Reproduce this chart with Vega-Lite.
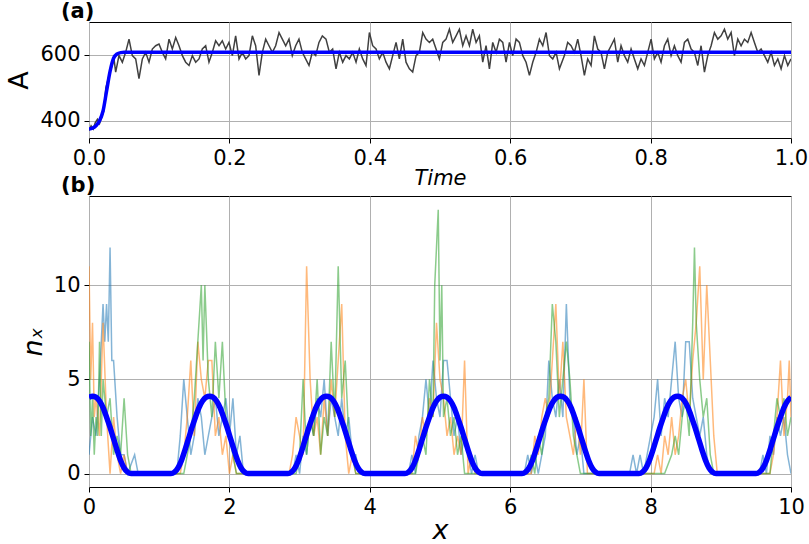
{
"$schema": "https://vega.github.io/schema/vega-lite/v6.json",
"padding": {"left": 5, "top": 0, "right": 3, "bottom": 2},
"bounds": "flush",
"spacing": 58,
"background": "white",
"config": {
  "font": "DejaVu Sans",
  "view": {"stroke": "black", "strokeWidth": 1},
  "axis": {"domain": false, "tickColor": "black", "tickSize": 5, "tickWidth": 1, "labelColor": "black", "labelFontSize": 21, "labelFont": "DejaVu Sans", "labelPadding": 4, "titleColor": "black", "titleFontWeight": "normal", "titleFont": "DejaVu Sans", "gridColor": "#b0b0b0", "gridWidth": 1, "labelOverlap": false, "labelFlush": false},
  "title": {"font": "DejaVu Sans", "fontSize": 21, "fontWeight": "bold", "color": "black", "anchor": "start", "frame": "group"}
},
"datasets": {
  "top": [
    {"t":0,"a":370},{"t":0.003,"a":385},{"t":0.006,"a":375},{"t":0.009,"a":395},{"t":0.012,"a":405},{"t":0.015,"a":392},{"t":0.018,"a":410},{"t":0.021,"a":430},{"t":0.024,"a":500},
    {"t":0.0285,"a":538},{"t":0.0356,"a":588},{"t":0.038,"a":548},{"t":0.0427,"a":598},{"t":0.0475,"a":578},{"t":0.0522,"a":608},{"t":0.057,"a":648},{"t":0.0617,"a":598},{"t":0.0665,"a":588},{"t":0.0712,"a":528},
    {"t":0.076,"a":588},{"t":0.0807,"a":608},{"t":0.0855,"a":578},{"t":0.0902,"a":618},{"t":0.095,"a":628},{"t":0.0997,"a":633},{"t":0.1045,"a":608},{"t":0.1092,"a":588},{"t":0.114,"a":648},{"t":0.1187,"a":618},
    {"t":0.1235,"a":653},{"t":0.1282,"a":628},{"t":0.133,"a":598},{"t":0.1377,"a":578},{"t":0.1425,"a":568},{"t":0.1472,"a":598},{"t":0.152,"a":578},{"t":0.1567,"a":588},{"t":0.1614,"a":618},{"t":0.1662,"a":628},
    {"t":0.1709,"a":578},{"t":0.1757,"a":608},{"t":0.1804,"a":643},{"t":0.1852,"a":628},{"t":0.1899,"a":643},{"t":0.1947,"a":618},{"t":0.1994,"a":638},{"t":0.2042,"a":598},{"t":0.2089,"a":658},{"t":0.2137,"a":588},
    {"t":0.2184,"a":608},{"t":0.2232,"a":588},{"t":0.2279,"a":598},{"t":0.2327,"a":658},{"t":0.2374,"a":628},{"t":0.2422,"a":538},{"t":0.2469,"a":608},{"t":0.2517,"a":648},{"t":0.2564,"a":628},{"t":0.2612,"a":608},
    {"t":0.2659,"a":628},{"t":0.2707,"a":668},{"t":0.2754,"a":648},{"t":0.2802,"a":628},{"t":0.2849,"a":648},{"t":0.2896,"a":598},{"t":0.2944,"a":628},{"t":0.2991,"a":648},{"t":0.3039,"a":608},{"t":0.3086,"a":588},
    {"t":0.3134,"a":568},{"t":0.3181,"a":608},{"t":0.3229,"a":598},{"t":0.3276,"a":638},{"t":0.3324,"a":658},
    {"t":0.3376,"a":648},{"t":0.3424,"a":608},{"t":0.3471,"a":618},{"t":0.3519,"a":558},{"t":0.3566,"a":608},{"t":0.3614,"a":578},{"t":0.3661,"a":598},{"t":0.3709,"a":588},{"t":0.3756,"a":608},{"t":0.3804,"a":578},
    {"t":0.3851,"a":618},{"t":0.3899,"a":588},{"t":0.3946,"a":568},{"t":0.3994,"a":668},{"t":0.4041,"a":628},{"t":0.4089,"a":618},{"t":0.4136,"a":588},{"t":0.4184,"a":608},{"t":0.4231,"a":578},{"t":0.4279,"a":558},
    {"t":0.4326,"a":598},{"t":0.4374,"a":638},{"t":0.4421,"a":588},{"t":0.4469,"a":648},{"t":0.4516,"a":578},{"t":0.4564,"a":558},{"t":0.4611,"a":548},{"t":0.4659,"a":598},{"t":0.4706,"a":608},{"t":0.4754,"a":668},
    {"t":0.4801,"a":648},{"t":0.4849,"a":638},{"t":0.4896,"a":648},{"t":0.4944,"a":618},{"t":0.4991,"a":588},{"t":0.5039,"a":638},{"t":0.5086,"a":648},{"t":0.5134,"a":678},{"t":0.5181,"a":638},{"t":0.5229,"a":658},
    {"t":0.5276,"a":678},{"t":0.5324,"a":628},{"t":0.5371,"a":658},{"t":0.5419,"a":628},{"t":0.5466,"a":678},{"t":0.5514,"a":638},{"t":0.5561,"a":658},{"t":0.5609,"a":578},{"t":0.5656,"a":628},{"t":0.5704,"a":558},
    {"t":0.5751,"a":638},{"t":0.5799,"a":608},{"t":0.5846,"a":648},{"t":0.5894,"a":638},{"t":0.5941,"a":578},{"t":0.5989,"a":638},{"t":0.6036,"a":598},{"t":0.6084,"a":648},{"t":0.6131,"a":638},{"t":0.6179,"a":598},
    {"t":0.6226,"a":578},{"t":0.6274,"a":538},{"t":0.6321,"a":578},{"t":0.6369,"a":608},{"t":0.6416,"a":648},{"t":0.6464,"a":628},{"t":0.6511,"a":668},{"t":0.6559,"a":598},{"t":0.6606,"a":588},{"t":0.6654,"a":608},
    {"t":0.6701,"a":558},
    {"t":0.6772,"a":598},{"t":0.6819,"a":638},{"t":0.6867,"a":628},{"t":0.6914,"a":608},{"t":0.6962,"a":648},{"t":0.7009,"a":598},{"t":0.7057,"a":538},{"t":0.7104,"a":588},{"t":0.7152,"a":568},{"t":0.7199,"a":658},
    {"t":0.7247,"a":618},{"t":0.7294,"a":608},{"t":0.7342,"a":558},{"t":0.7389,"a":608},{"t":0.7437,"a":628},{"t":0.7484,"a":648},{"t":0.7532,"a":578},{"t":0.7579,"a":628},{"t":0.7627,"a":598},{"t":0.7674,"a":578},
    {"t":0.7722,"a":618},{"t":0.7769,"a":588},{"t":0.7817,"a":558},{"t":0.7864,"a":588},{"t":0.7912,"a":568},{"t":0.7959,"a":608},{"t":0.8007,"a":648},{"t":0.8054,"a":588},{"t":0.8102,"a":608},{"t":0.8149,"a":578},
    {"t":0.8197,"a":628},{"t":0.8244,"a":648},{"t":0.8292,"a":598},{"t":0.8339,"a":628},{"t":0.8387,"a":598},{"t":0.8434,"a":578},{"t":0.8482,"a":638},{"t":0.8529,"a":648},{"t":0.8577,"a":618},{"t":0.8624,"a":608},
    {"t":0.8672,"a":568},{"t":0.8719,"a":628},{"t":0.8767,"a":548},{"t":0.8814,"a":598},{"t":0.8862,"a":628},{"t":0.8909,"a":668},{"t":0.8957,"a":648},{"t":0.9004,"a":658},{"t":0.9052,"a":678},{"t":0.9099,"a":648},
    {"t":0.9147,"a":668},{"t":0.9194,"a":598},{"t":0.9242,"a":648},{"t":0.9289,"a":628},{"t":0.9337,"a":648},{"t":0.9384,"a":638},{"t":0.9432,"a":668},{"t":0.9479,"a":638},{"t":0.9527,"a":608},{"t":0.9574,"a":618},
    {"t":0.9622,"a":598},{"t":0.9669,"a":578},{"t":0.9717,"a":608},{"t":0.9764,"a":568},{"t":0.9812,"a":588},{"t":0.9859,"a":558},{"t":0.9907,"a":598},{"t":0.9954,"a":568},{"t":1.0,"a":588}
  ],
  "topfit": [
    {"t":0,"a":375},{"t":0.005,"a":378},{"t":0.01,"a":385},{"t":0.015,"a":400},{"t":0.02,"a":430},{"t":0.025,"a":490},{"t":0.03,"a":550},{"t":0.035,"a":590},{"t":0.04,"a":603},{"t":0.045,"a":607},{"t":0.05,"a":608},{"t":0.2,"a":608},{"t":0.6,"a":608},{"t":1.0,"a":608}
  ],
  "noisy": [
    {"s":"b","x":0,"y":1},{"s":"b","x":0.05,"y":3},{"s":"b","x":0.1,"y":2},{"s":"b","x":0.15,"y":5},{"s":"b","x":0.2,"y":9},{"s":"b","x":0.225,"y":7},{"s":"b","x":0.25,"y":9},{"s":"b","x":0.275,"y":7},{"s":"b","x":0.3,"y":12},{"s":"b","x":0.325,"y":6},{"s":"b","x":0.35,"y":6},{"s":"b","x":0.4,"y":3},{"s":"b","x":0.45,"y":1},{"s":"b","x":0.5,"y":1},{"s":"b","x":0.55,"y":0},{"s":"b","x":0.65,"y":1},{"s":"b","x":0.7,"y":0},
    {"s":"b","x":1.25,"y":0},{"s":"b","x":1.3,"y":2},{"s":"b","x":1.35,"y":5},{"s":"b","x":1.4,"y":3},{"s":"b","x":1.45,"y":1},{"s":"b","x":1.5,"y":2},{"s":"b","x":1.55,"y":4},{"s":"b","x":1.6,"y":3},{"s":"b","x":1.65,"y":1},{"s":"b","x":1.7,"y":2},{"s":"b","x":1.75,"y":3},{"s":"b","x":1.8,"y":4},{"s":"b","x":1.85,"y":2},{"s":"b","x":1.9,"y":3},{"s":"b","x":1.95,"y":4},{"s":"b","x":2.0,"y":2},{"s":"b","x":2.05,"y":4},{"s":"b","x":2.1,"y":1},{"s":"b","x":2.15,"y":2},{"s":"b","x":2.2,"y":0},
    {"s":"b","x":2.9,"y":0},{"s":"b","x":2.95,"y":1},{"s":"b","x":3.0,"y":0},{"s":"b","x":3.05,"y":2},{"s":"b","x":3.1,"y":1},{"s":"b","x":3.15,"y":3},{"s":"b","x":3.2,"y":2},{"s":"b","x":3.25,"y":4},{"s":"b","x":3.3,"y":3},{"s":"b","x":3.35,"y":5},{"s":"b","x":3.4,"y":2},{"s":"b","x":3.45,"y":4},{"s":"b","x":3.5,"y":3},{"s":"b","x":3.55,"y":2},{"s":"b","x":3.6,"y":4},{"s":"b","x":3.65,"y":2},{"s":"b","x":3.7,"y":3},{"s":"b","x":3.75,"y":1},{"s":"b","x":3.8,"y":1},{"s":"b","x":3.85,"y":0},
    {"s":"b","x":4.55,"y":0},{"s":"b","x":4.6,"y":1},{"s":"b","x":4.65,"y":0},{"s":"b","x":4.7,"y":2},{"s":"b","x":4.75,"y":3},{"s":"b","x":4.8,"y":5},{"s":"b","x":4.85,"y":3},{"s":"b","x":4.9,"y":6},{"s":"b","x":4.95,"y":4},{"s":"b","x":5.0,"y":3},{"s":"b","x":5.05,"y":6},{"s":"b","x":5.1,"y":6},{"s":"b","x":5.15,"y":4},{"s":"b","x":5.2,"y":2},{"s":"b","x":5.25,"y":3},{"s":"b","x":5.3,"y":1},{"s":"b","x":5.35,"y":2},{"s":"b","x":5.4,"y":1},{"s":"b","x":5.45,"y":0},{"s":"b","x":5.5,"y":1},{"s":"b","x":5.55,"y":0},
    {"s":"b","x":6.2,"y":0},{"s":"b","x":6.25,"y":1},{"s":"b","x":6.3,"y":0},{"s":"b","x":6.35,"y":1},{"s":"b","x":6.4,"y":0},{"s":"b","x":6.45,"y":1},{"s":"b","x":6.5,"y":2},{"s":"b","x":6.55,"y":6},{"s":"b","x":6.6,"y":4},{"s":"b","x":6.65,"y":3},{"s":"b","x":6.7,"y":5},{"s":"b","x":6.75,"y":3},{"s":"b","x":6.8,"y":9},{"s":"b","x":6.85,"y":4},{"s":"b","x":6.9,"y":3},{"s":"b","x":6.95,"y":1},{"s":"b","x":7.0,"y":2},{"s":"b","x":7.05,"y":0},
    {"s":"b","x":7.7,"y":0},{"s":"b","x":7.75,"y":1},{"s":"b","x":7.8,"y":0},{"s":"b","x":7.85,"y":1},{"s":"b","x":7.9,"y":0},{"s":"b","x":7.95,"y":1},{"s":"b","x":8.0,"y":2},{"s":"b","x":8.05,"y":3},{"s":"b","x":8.1,"y":5},{"s":"b","x":8.15,"y":2},{"s":"b","x":8.2,"y":4},{"s":"b","x":8.25,"y":3},{"s":"b","x":8.3,"y":5},{"s":"b","x":8.35,"y":7},{"s":"b","x":8.4,"y":4},{"s":"b","x":8.45,"y":3},{"s":"b","x":8.5,"y":7},{"s":"b","x":8.55,"y":7},{"s":"b","x":8.6,"y":4},{"s":"b","x":8.65,"y":3},{"s":"b","x":8.7,"y":2},{"s":"b","x":8.75,"y":3},{"s":"b","x":8.8,"y":1},{"s":"b","x":8.85,"y":0},
    {"s":"b","x":9.55,"y":0},{"s":"b","x":9.6,"y":1},{"s":"b","x":9.65,"y":0},{"s":"b","x":9.7,"y":2},{"s":"b","x":9.75,"y":1},{"s":"b","x":9.8,"y":3},{"s":"b","x":9.85,"y":2},{"s":"b","x":9.9,"y":3},{"s":"b","x":9.95,"y":1},{"s":"b","x":10,"y":0},
    {"s":"o","x":0,"y":11},{"s":"o","x":0.025,"y":5},{"s":"o","x":0.05,"y":8},{"s":"o","x":0.075,"y":3},{"s":"o","x":0.1,"y":4},{"s":"o","x":0.15,"y":2},{"s":"o","x":0.2,"y":8},{"s":"o","x":0.25,"y":3},{"s":"o","x":0.3,"y":0},{"s":"o","x":0.35,"y":3},{"s":"o","x":0.4,"y":1},{"s":"o","x":0.45,"y":0},{"s":"o","x":0.5,"y":1},{"s":"o","x":0.55,"y":0},
    {"s":"o","x":1.3,"y":0},{"s":"o","x":1.35,"y":1},{"s":"o","x":1.4,"y":3},{"s":"o","x":1.45,"y":6},{"s":"o","x":1.5,"y":2},{"s":"o","x":1.55,"y":7},{"s":"o","x":1.6,"y":5},{"s":"o","x":1.65,"y":4},{"s":"o","x":1.7,"y":6},{"s":"o","x":1.75,"y":6},{"s":"o","x":1.8,"y":2},{"s":"o","x":1.85,"y":3},{"s":"o","x":1.9,"y":1},{"s":"o","x":1.95,"y":2},{"s":"o","x":2.0,"y":0},{"s":"o","x":2.05,"y":1},{"s":"o","x":2.1,"y":0},
    {"s":"o","x":2.85,"y":0},{"s":"o","x":2.9,"y":1},{"s":"o","x":2.95,"y":3},{"s":"o","x":3.0,"y":2},{"s":"o","x":3.05,"y":1},{"s":"o","x":3.1,"y":11},{"s":"o","x":3.15,"y":5},{"s":"o","x":3.2,"y":2},{"s":"o","x":3.25,"y":3},{"s":"o","x":3.3,"y":1},{"s":"o","x":3.35,"y":4},{"s":"o","x":3.4,"y":2},{"s":"o","x":3.45,"y":5},{"s":"o","x":3.5,"y":3},{"s":"o","x":3.55,"y":6},{"s":"o","x":3.6,"y":9},{"s":"o","x":3.65,"y":2},{"s":"o","x":3.7,"y":0},{"s":"o","x":3.75,"y":1},{"s":"o","x":3.8,"y":0},
    {"s":"o","x":4.6,"y":0},{"s":"o","x":4.65,"y":2},{"s":"o","x":4.7,"y":1},{"s":"o","x":4.75,"y":3},{"s":"o","x":4.8,"y":2},{"s":"o","x":4.85,"y":4},{"s":"o","x":4.9,"y":3},{"s":"o","x":4.95,"y":8},{"s":"o","x":5.0,"y":5},{"s":"o","x":5.05,"y":4},{"s":"o","x":5.1,"y":2},{"s":"o","x":5.15,"y":3},{"s":"o","x":5.2,"y":1},{"s":"o","x":5.25,"y":2},{"s":"o","x":5.3,"y":1},{"s":"o","x":5.35,"y":6},{"s":"o","x":5.4,"y":0},{"s":"o","x":5.45,"y":1},{"s":"o","x":5.5,"y":0},
    {"s":"o","x":6.3,"y":0},{"s":"o","x":6.35,"y":2},{"s":"o","x":6.4,"y":1},{"s":"o","x":6.45,"y":3},{"s":"o","x":6.5,"y":4},{"s":"o","x":6.55,"y":3},{"s":"o","x":6.6,"y":6},{"s":"o","x":6.65,"y":9},{"s":"o","x":6.7,"y":4},{"s":"o","x":6.75,"y":7},{"s":"o","x":6.8,"y":3},{"s":"o","x":6.85,"y":2},{"s":"o","x":6.9,"y":1},{"s":"o","x":6.95,"y":3},{"s":"o","x":7.0,"y":1},{"s":"o","x":7.05,"y":5},{"s":"o","x":7.1,"y":0},
    {"s":"o","x":8.05,"y":0},{"s":"o","x":8.1,"y":1},{"s":"o","x":8.15,"y":0},{"s":"o","x":8.2,"y":2},{"s":"o","x":8.25,"y":1},{"s":"o","x":8.3,"y":3},{"s":"o","x":8.35,"y":1},{"s":"o","x":8.4,"y":2},{"s":"o","x":8.45,"y":4},{"s":"o","x":8.5,"y":5},{"s":"o","x":8.55,"y":3},{"s":"o","x":8.6,"y":6},{"s":"o","x":8.65,"y":8},{"s":"o","x":8.7,"y":11},{"s":"o","x":8.75,"y":5},{"s":"o","x":8.8,"y":10},{"s":"o","x":8.85,"y":6},{"s":"o","x":8.9,"y":2},{"s":"o","x":8.95,"y":0},
    {"s":"o","x":9.7,"y":0},{"s":"o","x":9.75,"y":1},{"s":"o","x":9.8,"y":3},{"s":"o","x":9.85,"y":6},{"s":"o","x":9.9,"y":2},{"s":"o","x":9.95,"y":4},{"s":"o","x":9.975,"y":6},{"s":"o","x":10,"y":3},
    {"s":"g","x":0,"y":7},{"s":"g","x":0.025,"y":2},{"s":"g","x":0.05,"y":4},{"s":"g","x":0.075,"y":1},{"s":"g","x":0.1,"y":3},{"s":"g","x":0.125,"y":2},{"s":"g","x":0.15,"y":7},{"s":"g","x":0.175,"y":2},{"s":"g","x":0.2,"y":5},{"s":"g","x":0.25,"y":3},{"s":"g","x":0.3,"y":4},{"s":"g","x":0.35,"y":1},{"s":"g","x":0.4,"y":2},{"s":"g","x":0.45,"y":1},{"s":"g","x":0.5,"y":4},{"s":"g","x":0.55,"y":1},{"s":"g","x":0.6,"y":0},
    {"s":"g","x":1.35,"y":0},{"s":"g","x":1.4,"y":1},{"s":"g","x":1.45,"y":2},{"s":"g","x":1.5,"y":4},{"s":"g","x":1.55,"y":7},{"s":"g","x":1.6,"y":10},{"s":"g","x":1.625,"y":6},{"s":"g","x":1.65,"y":10},{"s":"g","x":1.7,"y":5},{"s":"g","x":1.75,"y":3},{"s":"g","x":1.8,"y":7},{"s":"g","x":1.85,"y":4},{"s":"g","x":1.9,"y":7},{"s":"g","x":1.95,"y":3},{"s":"g","x":2.0,"y":2},{"s":"g","x":2.05,"y":1},{"s":"g","x":2.1,"y":0},
    {"s":"g","x":2.95,"y":0},{"s":"g","x":3.0,"y":1},{"s":"g","x":3.05,"y":5},{"s":"g","x":3.1,"y":1},{"s":"g","x":3.15,"y":3},{"s":"g","x":3.2,"y":2},{"s":"g","x":3.25,"y":5},{"s":"g","x":3.3,"y":1},{"s":"g","x":3.35,"y":3},{"s":"g","x":3.4,"y":2},{"s":"g","x":3.45,"y":7},{"s":"g","x":3.5,"y":3},{"s":"g","x":3.55,"y":11},{"s":"g","x":3.6,"y":4},{"s":"g","x":3.65,"y":6},{"s":"g","x":3.7,"y":2},{"s":"g","x":3.75,"y":1},{"s":"g","x":3.8,"y":0},
    {"s":"g","x":4.65,"y":0},{"s":"g","x":4.7,"y":1},{"s":"g","x":4.75,"y":2},{"s":"g","x":4.8,"y":1},{"s":"g","x":4.85,"y":5},{"s":"g","x":4.9,"y":3},{"s":"g","x":4.925,"y":10},{"s":"g","x":4.95,"y":12},{"s":"g","x":4.975,"y":14},{"s":"g","x":5.0,"y":6},{"s":"g","x":5.025,"y":10},{"s":"g","x":5.05,"y":3},{"s":"g","x":5.1,"y":4},{"s":"g","x":5.15,"y":2},{"s":"g","x":5.2,"y":3},{"s":"g","x":5.25,"y":1},{"s":"g","x":5.3,"y":2},{"s":"g","x":5.35,"y":0},
    {"s":"g","x":6.25,"y":0},{"s":"g","x":6.3,"y":1},{"s":"g","x":6.35,"y":0},{"s":"g","x":6.4,"y":2},{"s":"g","x":6.45,"y":1},{"s":"g","x":6.5,"y":3},{"s":"g","x":6.55,"y":4},{"s":"g","x":6.6,"y":9},{"s":"g","x":6.65,"y":7},{"s":"g","x":6.7,"y":3},{"s":"g","x":6.75,"y":5},{"s":"g","x":6.8,"y":7},{"s":"g","x":6.85,"y":5},{"s":"g","x":6.9,"y":2},{"s":"g","x":6.95,"y":1},{"s":"g","x":7.0,"y":0},
    {"s":"g","x":8.2,"y":0},{"s":"g","x":8.3,"y":1},{"s":"g","x":8.35,"y":2},{"s":"g","x":8.4,"y":1},{"s":"g","x":8.45,"y":3},{"s":"g","x":8.5,"y":4},{"s":"g","x":8.55,"y":2},{"s":"g","x":8.6,"y":8},{"s":"g","x":8.625,"y":12},{"s":"g","x":8.65,"y":8},{"s":"g","x":8.7,"y":5},{"s":"g","x":8.75,"y":3},{"s":"g","x":8.8,"y":4},{"s":"g","x":8.85,"y":1},{"s":"g","x":8.9,"y":0},
    {"s":"g","x":9.7,"y":0},{"s":"g","x":9.75,"y":2},{"s":"g","x":9.8,"y":4},{"s":"g","x":9.85,"y":3},{"s":"g","x":9.9,"y":4},{"s":"g","x":9.95,"y":2},{"s":"g","x":10,"y":3}
  ],
  "fit": [
    {"x":0,"y":4.05},{"x":0.05,"y":4.1},{"x":0.1,"y":4.05},{"x":0.15,"y":3.85},{"x":0.2,"y":3.5},{"x":0.25,"y":3.0},{"x":0.3,"y":2.45},{"x":0.35,"y":1.85},{"x":0.4,"y":1.25},{"x":0.45,"y":0.7},{"x":0.5,"y":0.3},{"x":0.55,"y":0.08},{"x":0.6,"y":0},
    {"x":1.167,"y":0},{"x":1.217,"y":0.08},{"x":1.267,"y":0.3},{"x":1.317,"y":0.7},{"x":1.367,"y":1.25},{"x":1.417,"y":1.85},{"x":1.467,"y":2.45},{"x":1.517,"y":3.0},{"x":1.567,"y":3.5},{"x":1.617,"y":3.85},{"x":1.667,"y":4.05},{"x":1.717,"y":4.1},{"x":1.767,"y":4.05},{"x":1.817,"y":3.85},{"x":1.867,"y":3.5},{"x":1.917,"y":3.0},{"x":1.967,"y":2.45},{"x":2.017,"y":1.85},{"x":2.067,"y":1.25},{"x":2.117,"y":0.7},{"x":2.167,"y":0.3},{"x":2.217,"y":0.08},{"x":2.267,"y":0},
    {"x":2.833,"y":0},{"x":2.883,"y":0.08},{"x":2.933,"y":0.3},{"x":2.983,"y":0.7},{"x":3.033,"y":1.25},{"x":3.083,"y":1.85},{"x":3.133,"y":2.45},{"x":3.183,"y":3.0},{"x":3.233,"y":3.5},{"x":3.283,"y":3.85},{"x":3.333,"y":4.05},{"x":3.383,"y":4.1},{"x":3.433,"y":4.05},{"x":3.483,"y":3.85},{"x":3.533,"y":3.5},{"x":3.583,"y":3.0},{"x":3.633,"y":2.45},{"x":3.683,"y":1.85},{"x":3.733,"y":1.25},{"x":3.783,"y":0.7},{"x":3.833,"y":0.3},{"x":3.883,"y":0.08},{"x":3.933,"y":0},
    {"x":4.5,"y":0},{"x":4.55,"y":0.08},{"x":4.6,"y":0.3},{"x":4.65,"y":0.7},{"x":4.7,"y":1.25},{"x":4.75,"y":1.85},{"x":4.8,"y":2.45},{"x":4.85,"y":3.0},{"x":4.9,"y":3.5},{"x":4.95,"y":3.85},{"x":5.0,"y":4.05},{"x":5.05,"y":4.1},{"x":5.1,"y":4.05},{"x":5.15,"y":3.85},{"x":5.2,"y":3.5},{"x":5.25,"y":3.0},{"x":5.3,"y":2.45},{"x":5.35,"y":1.85},{"x":5.4,"y":1.25},{"x":5.45,"y":0.7},{"x":5.5,"y":0.3},{"x":5.55,"y":0.08},{"x":5.6,"y":0},
    {"x":6.167,"y":0},{"x":6.217,"y":0.08},{"x":6.267,"y":0.3},{"x":6.317,"y":0.7},{"x":6.367,"y":1.25},{"x":6.417,"y":1.85},{"x":6.467,"y":2.45},{"x":6.517,"y":3.0},{"x":6.567,"y":3.5},{"x":6.617,"y":3.85},{"x":6.667,"y":4.05},{"x":6.717,"y":4.1},{"x":6.767,"y":4.05},{"x":6.817,"y":3.85},{"x":6.867,"y":3.5},{"x":6.917,"y":3.0},{"x":6.967,"y":2.45},{"x":7.017,"y":1.85},{"x":7.067,"y":1.25},{"x":7.117,"y":0.7},{"x":7.167,"y":0.3},{"x":7.217,"y":0.08},{"x":7.267,"y":0},
    {"x":7.833,"y":0},{"x":7.883,"y":0.08},{"x":7.933,"y":0.3},{"x":7.983,"y":0.7},{"x":8.033,"y":1.25},{"x":8.083,"y":1.85},{"x":8.133,"y":2.45},{"x":8.183,"y":3.0},{"x":8.233,"y":3.5},{"x":8.283,"y":3.85},{"x":8.333,"y":4.05},{"x":8.383,"y":4.1},{"x":8.433,"y":4.05},{"x":8.483,"y":3.85},{"x":8.533,"y":3.5},{"x":8.583,"y":3.0},{"x":8.633,"y":2.45},{"x":8.683,"y":1.85},{"x":8.733,"y":1.25},{"x":8.783,"y":0.7},{"x":8.833,"y":0.3},{"x":8.883,"y":0.08},{"x":8.933,"y":0},
    {"x":9.5,"y":0},{"x":9.55,"y":0.08},{"x":9.6,"y":0.3},{"x":9.65,"y":0.7},{"x":9.7,"y":1.25},{"x":9.75,"y":1.85},{"x":9.8,"y":2.45},{"x":9.85,"y":3.0},{"x":9.9,"y":3.5},{"x":9.95,"y":3.85},{"x":10.0,"y":4.05}
  ]
},
"vconcat": [
  {
    "width": 702, "height": 116,
    "title": {"text": "(a)", "dx": -28, "offset": 0},
    "layer": [
      {
        "data": {"name": "top"},
        "mark": {"type": "line", "color": "#404040", "strokeWidth": 1.5, "clip": true},
        "encoding": {
          "x": {"field": "t", "type": "quantitative", "scale": {"domain": [0, 1], "nice": false}, "axis": {"values": [0, 0.2, 0.4, 0.6, 0.8, 1.0], "format": ".1f", "title": "Time", "titleFontSize": 21, "titleFontStyle": "italic", "titlePadding": -1}},
          "y": {"field": "a", "type": "quantitative", "scale": {"domain": [348, 700], "nice": false, "zero": false}, "axis": {"values": [400, 600], "format": "d", "title": "A", "titleFontSize": 27, "titlePadding": 6}}
        }
      },
      {
        "data": {"name": "topfit"},
        "mark": {"type": "line", "color": "#0000ff", "strokeWidth": 3.5, "interpolate": "monotone", "clip": true},
        "encoding": {
          "x": {"field": "t", "type": "quantitative"},
          "y": {"field": "a", "type": "quantitative"}
        }
      }
    ]
  },
  {
    "width": 702, "height": 291,
    "title": {"text": "(b)", "dx": -28, "offset": 0},
    "layer": [
      {
        "data": {"name": "noisy"},
        "mark": {"type": "line", "strokeWidth": 1.5, "opacity": 0.55, "clip": true},
        "encoding": {
          "x": {"field": "x", "type": "quantitative", "scale": {"domain": [0, 10], "nice": false}, "axis": {"values": [0, 2, 4, 6, 8, 10], "format": "d", "title": "x", "titleFontSize": 27, "titleFontStyle": "italic", "titlePadding": 0}},
          "y": {"field": "y", "type": "quantitative", "scale": {"domain": [-0.71, 14.73], "nice": false, "zero": false}, "axis": {"values": [0, 5, 10], "format": "d", "title": "nₓ", "titleFontSize": 27, "titleFontStyle": "italic", "titlePadding": 6}},
          "color": {"field": "s", "type": "nominal", "scale": {"domain": ["b", "o", "g"], "range": ["#1f77b4", "#ff7f0e", "#2ca02c"]}, "legend": null}
        }
      },
      {
        "data": {"name": "fit"},
        "mark": {"type": "line", "color": "#0000ff", "strokeWidth": 5.5, "interpolate": "monotone", "clip": true},
        "encoding": {
          "x": {"field": "x", "type": "quantitative"},
          "y": {"field": "y", "type": "quantitative"}
        }
      }
    ]
  }
]
}
